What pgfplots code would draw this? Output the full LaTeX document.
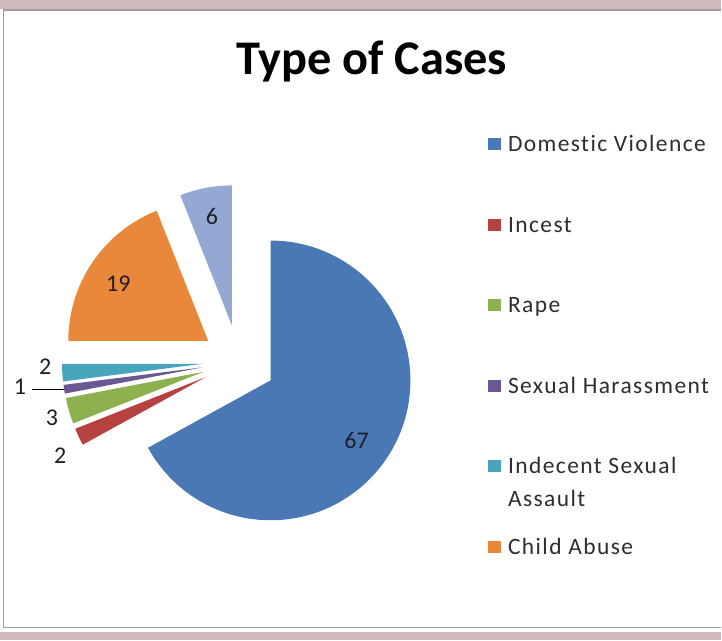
\documentclass[border=0pt]{standalone}
\usepackage{pgfplots}
\pgfplotsset{compat=1.18}
\usepackage{pgfplotstable}
\usepackage{fontspec}
\setmainfont{Carlito}
\newfontfamily\legfont[LetterSpace=6, Ligatures=NoCommon]{Carlito}

% slice colours (Excel 2007 palette, as seen in the screenshot)
\definecolor{dv}{HTML}{4A78B4}
\definecolor{inc}{HTML}{B5423F}
\definecolor{rape}{HTML}{8EB150}
\definecolor{sh}{HTML}{6A5894}
\definecolor{isa}{HTML}{47A5BC}
\definecolor{ca}{HTML}{E9883B}
\definecolor{ot}{HTML}{93A8D3}
\definecolor{frame}{HTML}{D2B9BC}
\definecolor{legtext}{HTML}{2E2E2E}
\definecolor{labtext}{HTML}{1E1E28}

% value, label radius (fraction of r), label angle shift, colour
\pgfplotstableread[col sep=comma]{
value,lr,da,colour
67,0.75,-4.3,dv
2,1.18,3.3,inc
3,1.13,0.6,rape
1,1.31,-3,sh
2,1.12,-2.5,isa
19,0.76,1.9,ca
6,0.79,-0.5,ot
}\piedata

% cumulative angles, clockwise from 12 o'clock
\pgfplotstablegetrowsof{\piedata}
\pgfmathtruncatemacro{\lastrow}{\pgfplotsretval-1}
\def\cum{0}
\pgfplotsforeachungrouped \i in {0,...,\lastrow}{%
  \pgfplotstablegetelem{\i}{value}\of{\piedata}\let\val\pgfplotsretval
  \pgfplotstablegetelem{\i}{lr}\of{\piedata}\let\lr\pgfplotsretval
  \pgfplotstablegetelem{\i}{da}\of{\piedata}\let\da\pgfplotsretval
  \pgfplotstablegetelem{\i}{colour}\of{\piedata}\let\col\pgfplotsretval
  \pgfmathsetmacro{\a}{90-3.6*\cum}
  \pgfmathsetmacro{\cum}{\cum+\val}
  \pgfmathsetmacro{\b}{90-3.6*\cum}
  \pgfmathsetmacro{\m}{(\a+\b)/2}
  \pgfmathsetmacro{\la}{\m+\da}
  \pgfmathsetmacro{\lrad}{\lr*70}
  \expandafter\xdef\csname sa\i\endcsname{\a}
  \expandafter\xdef\csname sb\i\endcsname{\b}
  \expandafter\xdef\csname sm\i\endcsname{\m}
  \expandafter\xdef\csname sl\i\endcsname{\la}
  \expandafter\xdef\csname sr\i\endcsname{\lrad}
  \expandafter\xdef\csname sv\i\endcsname{\val}
  \expandafter\xdef\csname sc\i\endcsname{\col}
}

\begin{document}
\begin{tikzpicture}
\begin{axis}[
    x=0.5pt, y=0.5pt,
    xmin=0, xmax=722, ymin=0, ymax=641,
    hide axis, clip=false,
    legend cell align=left,
    legend image code/.code={\fill[#1, draw=none] (0pt,-2pt) rectangle (6.5pt,4pt);},
    legend style={at={(axis cs:488,505.5)}, anchor=north west,
      draw=none, fill=none, inner sep=0pt, row sep=29.8pt, column sep=3.6pt,
      nodes={inner sep=0pt, text height=8pt, text depth=2.5pt,
        font=\legfont\fontsize{11.75}{14}\selectfont, text=legtext}},
  ]
  % background, grey panel, pink bands
  \fill[white] (axis cs:0,0) rectangle (axis cs:722,641);
  \fill[frame] (axis cs:0,631.5) rectangle (axis cs:722,641);
  \fill[frame] (axis cs:0,0) rectangle (axis cs:722,8);
  \draw[gray!75, line width=0.8pt] (axis cs:722,631) -- (axis cs:3.5,631)
    -- (axis cs:3.5,13) -- (axis cs:722,13);

  % title
  \node[anchor=base, font=\fontsize{24.2}{29}\selectfont\bfseries]
    at (axis cs:372,566) {Type of Cases};

  % exploded slices
  \pgfplotsinvokeforeach{0,...,6}{%
    \fill[fill=\csname sc#1\endcsname, shift={(\csname sm#1\endcsname:18.5pt)}]
      (axis cs:239,279) -- ++(\csname sa#1\endcsname:70pt)
      arc[start angle=\csname sa#1\endcsname, end angle=\csname sb#1\endcsname, radius=70pt]
      -- cycle;
    \path[shift={(\csname sm#1\endcsname:18.5pt)}] (axis cs:239,279)
      ++(\csname sl#1\endcsname:\csname sr#1\endcsname pt)
      node[font=\fontsize{12}{14}\selectfont, text=labtext] {\csname sv#1\endcsname};
  }
  % leader line for the smallest slice
  \draw[black, line width=0.6pt, shift={(\csname sm3\endcsname:18.5pt)}]
    (axis cs:239,279) ++(\csname sm3\endcsname:70pt) -- ++(-16pt,0);

  % legend (the grey-blue slice has no entry in the original)
  \pgfplotsinvokeforeach{0,...,5}{\addlegendimage{fill=\csname sc#1\endcsname, draw=none}}
  \addlegendentry{Domestic Violence}
  \addlegendentry{Incest}
  \addlegendentry{Rape}
  \addlegendentry{Sexual Harassment}
  \addlegendentry{\vtop{\baselineskip=16.5pt\hbox{Indecent Sexual}\hbox{Assault}}}
  \addlegendentry{Child Abuse}
\end{axis}
\end{tikzpicture}
\end{document}
